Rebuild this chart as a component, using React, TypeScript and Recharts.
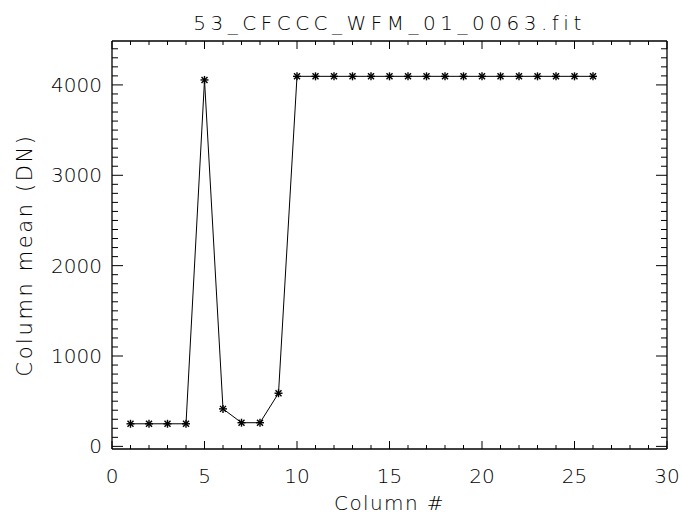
import React from 'react';
import { LineChart, Line, XAxis, YAxis } from 'recharts';

const title = '53_CFCCC_WFM_01_0063.fit';
const xLabel = 'Column #';
const yLabel = 'Column mean (DN)';

const columns = [1, 2, 3, 4, 5, 6, 7, 8, 9, 10, 11, 12, 13, 14, 15, 16, 17, 18, 19, 20, 21, 22, 23, 24, 25, 26];
const means = [250, 250, 250, 250, 4055, 415, 262, 262, 588, 4095, 4095, 4095, 4095, 4095, 4095, 4095, 4095, 4095, 4095, 4095, 4095, 4095, 4095, 4095, 4095, 4095];

const xTicks = Array.from({ length: 31 }, (_, i) => i);
const xMajorStep = 5;
const yTicks = Array.from({ length: 45 }, (_, i) => i * 100);
const yMajorStep = 1000;
const xDomain = [0, 30];
const yDomain = [-29, 4486];

const data = columns.map((c, i) => ({ x: c, y: means[i] }));

const FONT = "'DejaVu Sans', sans-serif";
const FW = 200;
const FS = 20;

const XTickBottom = (props: any) => {
  const { x, y, payload } = props;
  const major = payload.value % xMajorStep === 0;
  return (
    <g>
      <line x1={x} x2={x} y1={y} y2={y - (major ? 8 : 4)} stroke="#000" strokeWidth={1} />
      {major && (
        <text x={x} y={y + 34} textAnchor="middle" fontFamily={FONT} fontWeight={FW} fontSize={FS} fill="#000">
          {payload.value}
        </text>
      )}
    </g>
  );
};

const XTickTop = (props: any) => {
  const { x, y, payload } = props;
  const major = payload.value % xMajorStep === 0;
  return <line x1={x} x2={x} y1={y} y2={y + (major ? 8 : 4)} stroke="#000" strokeWidth={1} />;
};

const YTickLeft = (props: any) => {
  const { x, y, payload } = props;
  const major = payload.value % yMajorStep === 0;
  return (
    <g>
      <line x1={x} x2={x + (major ? 11 : 6)} y1={y} y2={y} stroke="#000" strokeWidth={1} />
      {major && (
        <text x={x - 10} y={y + 7} textAnchor="end" fontFamily={FONT} fontWeight={FW} fontSize={FS} fill="#000">
          {payload.value}
        </text>
      )}
    </g>
  );
};

const YTickRight = (props: any) => {
  const { x, y, payload } = props;
  const major = payload.value % yMajorStep === 0;
  return <line x1={x} x2={x - (major ? 11 : 6)} y1={y} y2={y} stroke="#000" strokeWidth={1} />;
};

const Asterisk = (props: any) => {
  const { cx, cy } = props;
  if (cx == null || cy == null) return null;
  const r = 4;
  const d = r * 0.75;
  return (
    <g stroke="#000" strokeWidth={1.4}>
      <line x1={cx - r} x2={cx + r} y1={cy} y2={cy} />
      <line x1={cx} x2={cx} y1={cy - r} y2={cy + r} />
      <line x1={cx - d} x2={cx + d} y1={cy - d} y2={cy + d} />
      <line x1={cx - d} x2={cx + d} y1={cy + d} y2={cy - d} />
    </g>
  );
};

const XLabelContent = (props: any) => {
  const { viewBox } = props;
  const cx = viewBox.x + viewBox.width / 2;
  return (
    <text x={cx} y={510} textAnchor="middle" fontFamily={FONT} fontWeight={FW} fontSize={FS} letterSpacing={1.4} fill="#000">
      {xLabel}
    </text>
  );
};

const YLabelContent = () => {
  const cx = 32;
  const cy = 255;
  return (
    <text
      x={cx}
      y={cy}
      transform={`rotate(-90 ${cx} ${cy})`}
      textAnchor="middle"
      fontFamily={FONT}
      fontWeight={FW}
      fontSize={21}
      letterSpacing={2.6}
      fill="#000"
    >
      {yLabel}
    </text>
  );
};

const TitleContent = (props: any) => {
  const { viewBox } = props;
  const cx = viewBox.x + viewBox.width / 2;
  return (
    <text x={cx} y={30} textAnchor="middle" fontFamily={FONT} fontWeight={FW} fontSize={FS} letterSpacing={4.5} fill="#000">
      {title}
    </text>
  );
};

export default function App() {
  return (
    <div style={{ position: 'absolute', left: 0, top: 0, width: 683, height: 519, background: '#fff' }}>
      <LineChart width={683} height={519} data={data} margin={{ top: 40, right: 15, bottom: 0, left: 0 }}>
        <XAxis
          xAxisId="bottom"
          orientation="bottom"
          type="number"
          dataKey="x"
          domain={xDomain}
          ticks={xTicks}
          interval={0}
          height={70}
          tickSize={0}
          tickMargin={0}
          tickLine={false}
          tick={<XTickBottom />}
          axisLine={{ stroke: '#000', strokeWidth: 1.3 }}
          allowDataOverflow
          label={<XLabelContent />}
        />
        <XAxis
          xAxisId="top"
          orientation="top"
          type="number"
          dataKey="x"
          domain={xDomain}
          ticks={xTicks}
          interval={0}
          height={1}
          tickSize={0}
          tickMargin={0}
          tickLine={false}
          tick={<XTickTop />}
          axisLine={{ stroke: '#000', strokeWidth: 1.3 }}
          allowDataOverflow
          label={<TitleContent />}
        />
        <YAxis
          yAxisId="left"
          orientation="left"
          type="number"
          domain={yDomain}
          ticks={yTicks}
          interval={0}
          width={112}
          tickSize={0}
          tickMargin={0}
          tickLine={false}
          tick={<YTickLeft />}
          axisLine={{ stroke: '#000', strokeWidth: 1.3 }}
          allowDataOverflow
          label={<YLabelContent />}
        />
        <YAxis
          yAxisId="right"
          orientation="right"
          type="number"
          domain={yDomain}
          ticks={yTicks}
          interval={0}
          width={1}
          tickSize={0}
          tickMargin={0}
          tickLine={false}
          tick={<YTickRight />}
          axisLine={{ stroke: '#000', strokeWidth: 1.3 }}
          allowDataOverflow
        />
        <Line
          xAxisId="bottom"
          yAxisId="left"
          type="linear"
          dataKey="y"
          stroke="#000"
          strokeWidth={1}
          dot={<Asterisk />}
          activeDot={false}
          isAnimationActive={false}
        />
      </LineChart>
    </div>
  );
}
